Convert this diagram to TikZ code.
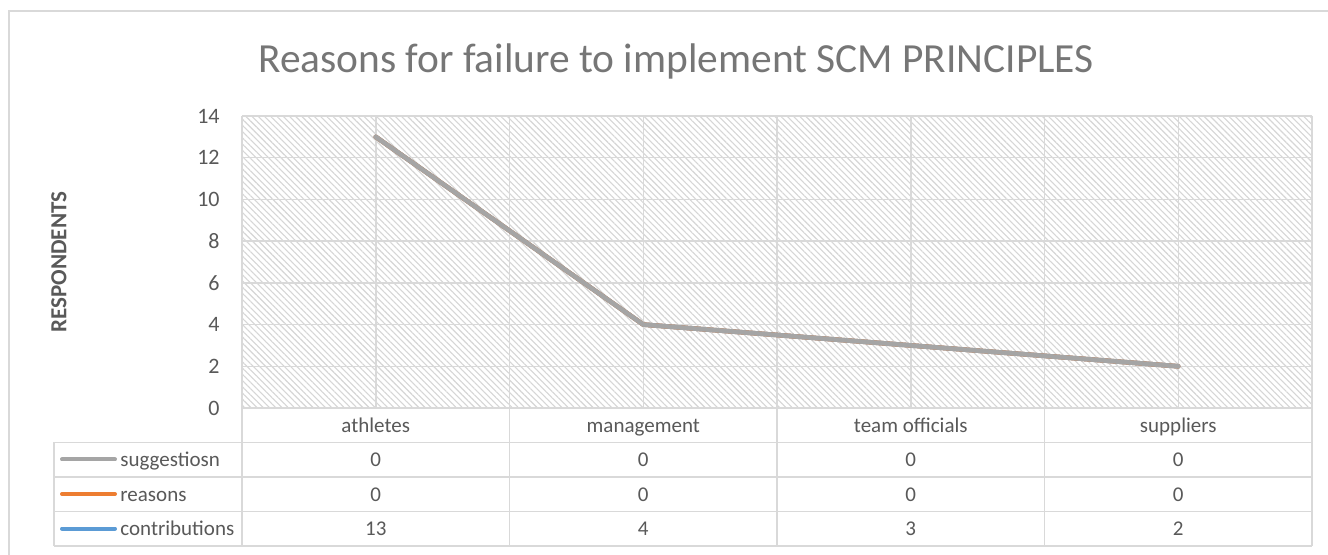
\documentclass[tikz,border=0pt]{standalone}
\usepackage{fontspec}
\setmainfont{Carlito}
\usetikzlibrary{patterns.meta}
\definecolor{gridgray}{HTML}{D9D9D9}
\definecolor{labelgray}{HTML}{595959}
\definecolor{titlegray}{HTML}{767676}
\definecolor{hatchgray}{HTML}{D6D6D6}
\definecolor{seriesgray}{HTML}{A5A5A5}
\definecolor{seriesorange}{HTML}{ED7D31}
\definecolor{seriesblue}{HTML}{5B9BD5}

\begin{document}
\begin{tikzpicture}[x=0.5pt, y=-0.5pt,
    grid/.style={draw=gridgray, line width=0.75pt},
    ticklabel/.style={anchor=east, text=labelgray, inner sep=0pt, font=\fontsize{11}{13}\selectfont},
    celltext/.style={text=labelgray, inner sep=0pt, text height=9.6pt, text depth=2.2pt, font=\fontsize{10.5}{12}\selectfont},
    series/.style={line width=2.3pt, line cap=round, line join=round},
    legendkey/.style={line width=2pt, line cap=round}]
   \useasboundingbox (0,0) rectangle (1328,555);
   \fill[white] (0,0) rectangle (1328,555);
   % chart frame
   \draw[grid] (9,555) -- (9,11) -- (1328,11);
   \node[text=titlegray, font=\fontsize{20.7}{24}\selectfont] (title) at (676,61) {Reasons for failure to implement SCM PRINCIPLES};
   % plot area
   \fill[pattern={Lines[angle=-45,distance=2.2pt,line width=0.55pt]}, pattern color=hatchgray] (242,116) rectangle (1312,408);
   \foreach \k in {0,...,7}
      \draw[grid] (242,{116+\k*41.714}) -- (1312,{116+\k*41.714});
   \foreach \k in {0,...,8}
      \draw[grid] ({242+\k*133.75},116) -- ({242+\k*133.75},408);
   \foreach \v in {0,2,...,14}
      \node[ticklabel] (tick\v) at (220,{408-\v*20.857}) {\v};
   \node[rotate=90, text=labelgray, font=\fontsize{11.5}{13}\selectfont\bfseries] (ytitle) at (59,262) {RESPONDENTS};
   % data table
   \foreach \y in {442.5,477,511.5,546}
      \draw[grid] (54,\y) -- (1312,\y);
   \draw[grid] (54,442.5) -- (54,546);
   \foreach \k in {0,...,4}
      \draw[grid] ({242+\k*267.5},408) -- ({242+\k*267.5},546);
   \foreach \cat/\s/\r/\c [count=\i] in {athletes/0/0/13, management/0/0/4, team officials/0/0/3, suppliers/0/0/2} {
      \node[celltext] (cat\i) at ({242+(\i-0.5)*267.5},425) {\cat};
      \node[celltext] (sug\i) at ({242+(\i-0.5)*267.5},459.5) {\s};
      \node[celltext] (rea\i) at ({242+(\i-0.5)*267.5},494) {\r};
      \node[celltext] (con\i) at ({242+(\i-0.5)*267.5},528.5) {\c};
      \coordinate (p\i) at ({242+(\i-0.5)*267.5},{408-\c*20.857});
   }
   % legend keys
   \foreach \name/\col/\y in {suggestiosn/seriesgray/459.5, reasons/seriesorange/494, contributions/seriesblue/528.5} {
      \coordinate (key\name) at (62,\y);
      \coordinate (keyend\name) at (115,\y);
      \draw[legendkey, \col] (key\name) -- (keyend\name);
      \node[celltext, anchor=west] (lab\name) at (120,\y) {\name};
   }
   % series (stacked, so they coincide)
   \draw[series, seriesblue] (p1) -- (p2) -- (p3) -- (p4);
   \draw[series, seriesorange, yshift=-0.4pt] (p1) -- (p2) -- (p3) -- (p4);
   \draw[series, seriesgray] (p1) -- (p2) -- (p3) -- (p4);
 \end{tikzpicture}
\end{document}
